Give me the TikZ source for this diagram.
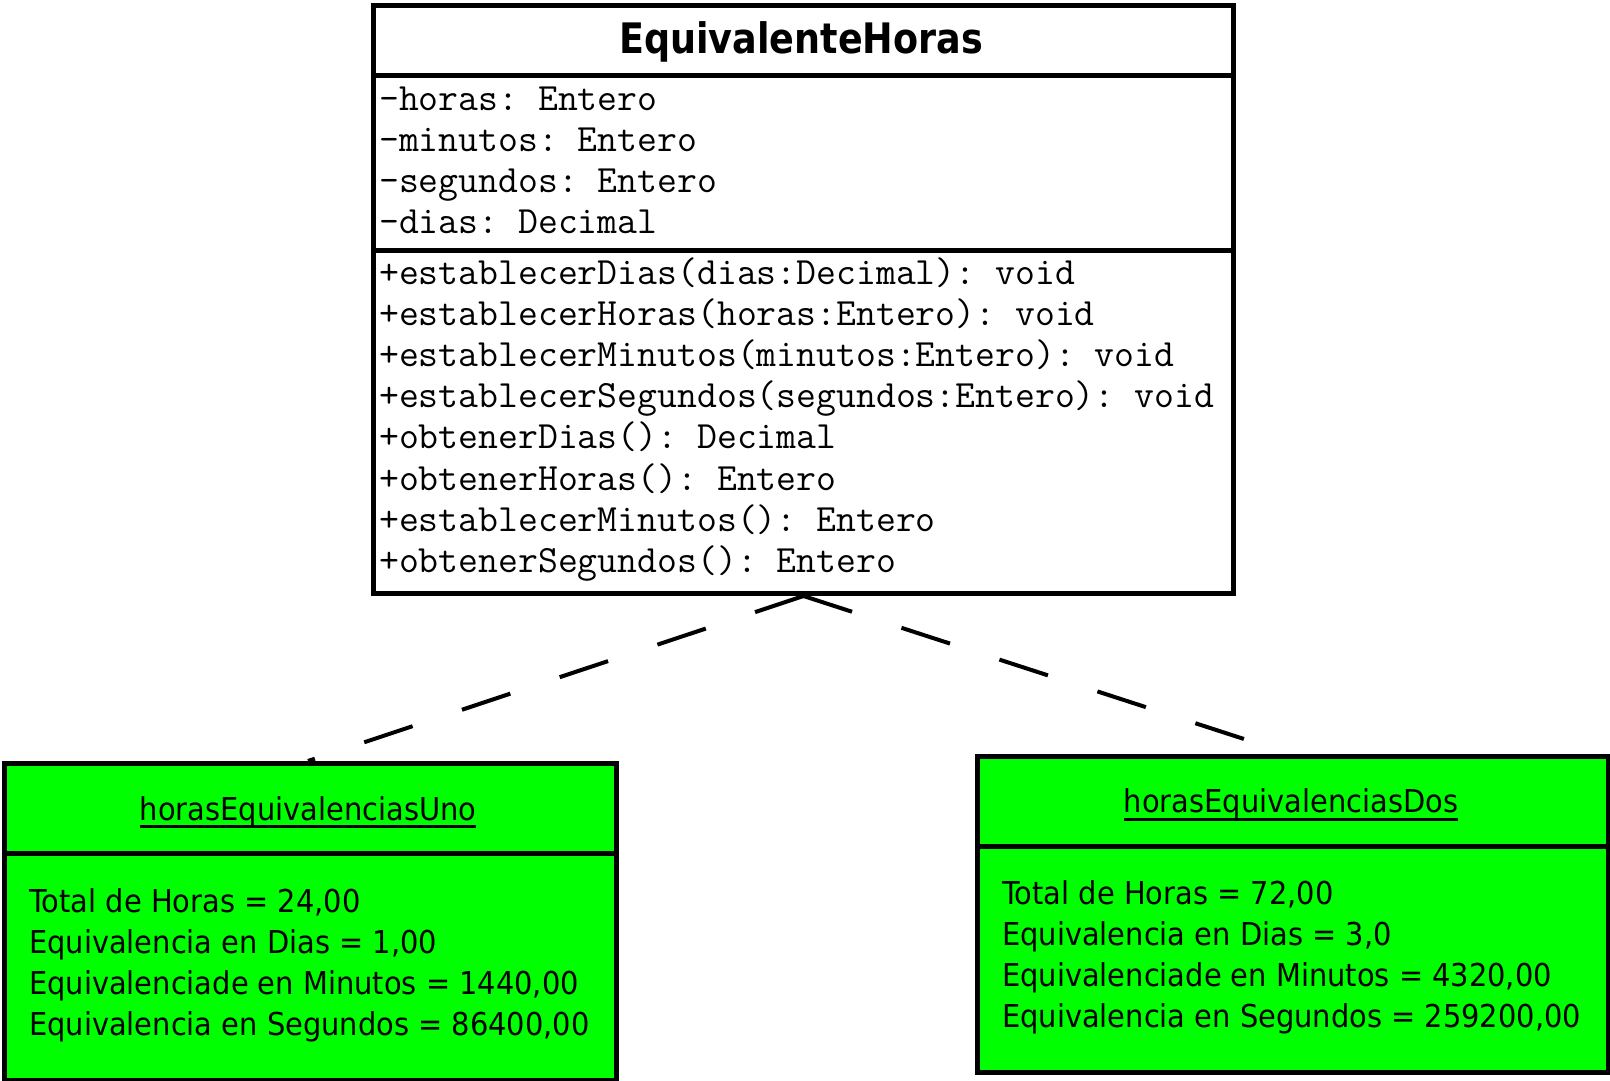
\documentclass[tikz,border=0pt]{standalone}
\usepackage{fontspec}
\setmainfont{DejaVu Sans}
\newfontfamily\titlefont[FakeStretch=0.87]{DejaVu Sans Bold}
\newfontfamily\greenfont[FakeStretch=0.917]{DejaVu Sans}
\setmonofont{Latin Modern Mono}
\definecolor{objgreen}{HTML}{00FF00}
\begin{document}
\begin{tikzpicture}[x=1pt,y=-1pt,
  boxline/.style={draw=black,line width=5pt},
  mono/.style={anchor=base west,inner sep=0pt,font=\fontsize{38.6}{40}\selectfont\ttfamily},
  grn/.style={anchor=base west,inner sep=0pt,font=\fontsize{31.5}{36}\selectfont\greenfont},
  grntitle/.style={anchor=base,inner sep=0pt,font=\fontsize{31.5}{36}\selectfont\greenfont},
  uline/.style={line width=3pt},
  link/.style={line width=4pt,dash pattern=on 51pt off 52pt}]
\useasboundingbox (0,0) rectangle (1610,1080);
% main class
\node[boxline,fill=white,minimum width=860pt,minimum height=588pt,inner sep=0pt,anchor=north west] (cls) at (371,3) {};
\draw[boxline] (371,75) -- (1231,75);
\draw[boxline] (371,250) -- (1231,250);
\node[anchor=base,inner sep=0pt,font=\fontsize{42}{46}\selectfont\titlefont] (title) at (801,53.5) {EquivalenteHoras};
\node[mono] (a1) at (379,110) {-horas: Entero};
\node[mono] (a2) at (379,151) {-minutos: Entero};
\node[mono] (a3) at (379,192) {-segundos: Entero};
\node[mono] (a4) at (379,233) {-dias: Decimal};
\node[mono] (m1) at (379,284.5) {+establecerDias(dias:Decimal): void};
\node[mono] (m2) at (379,325.6) {+establecerHoras(horas:Entero): void};
\node[mono] (m3) at (379,366.7) {+establecerMinutos(minutos:Entero): void};
\node[mono] (m4) at (379,407.8) {+establecerSegundos(segundos:Entero): void};
\node[mono] (m5) at (379,448.9) {+obtenerDias(): Decimal};
\node[mono] (m6) at (379,490) {+obtenerHoras(): Entero};
\node[mono] (m7) at (379,531.1) {+establecerMinutos(): Entero};
\node[mono] (m8) at (379,572.2) {+obtenerSegundos(): Entero};
% left object
\node[boxline,fill=objgreen,minimum width=612pt,minimum height=317pt,inner sep=0pt,anchor=north west] (uno) at (2,761) {};
\draw[boxline] (2,853) -- (614,853);
\node[grntitle] (unot) at (308,820) {horasEquivalenciasUno};
\draw[uline] ([yshift=-6.7pt]unot.base west) -- ([yshift=-6.7pt]unot.base east);
\node[grn] (u1) at (29,912.5) {Total de Horas = 24,00};
\node[grn] (u2) at (29,953.5) {Equivalencia en Dias = 1,00};
\node[grn] (u3) at (29,994.5) {Equivalenciade en Minutos = 1440,00};
\node[grn] (u4) at (29,1035.5) {Equivalencia en Segundos = 86400,00};
% right object
\node[boxline,fill=objgreen,minimum width=631pt,minimum height=316pt,inner sep=0pt,anchor=north west] (dos) at (975,754) {};
\draw[boxline] (975,846) -- (1606,846);
\node[grntitle] (dost) at (1291,812.5) {horasEquivalenciasDos};
\draw[uline] ([yshift=-6.7pt]dost.base west) -- ([yshift=-6.7pt]dost.base east);
\node[grn] (d1) at (1002,904.5) {Total de Horas = 72,00};
\node[grn] (d2) at (1002,945.5) {Equivalencia en Dias = 3,0};
\node[grn] (d3) at (1002,986.5) {Equivalenciade en Minutos = 4320,00};
\node[grn] (d4) at (1002,1027.5) {Equivalencia en Segundos = 259200,00};
% connectors
\coordinate (unotop) at (308,761);
\coordinate (dosend) at (1244,739);
\draw[link] (cls.south) -- (unotop);
\draw[link] (cls.south) -- (dosend);
\end{tikzpicture}
\end{document}
